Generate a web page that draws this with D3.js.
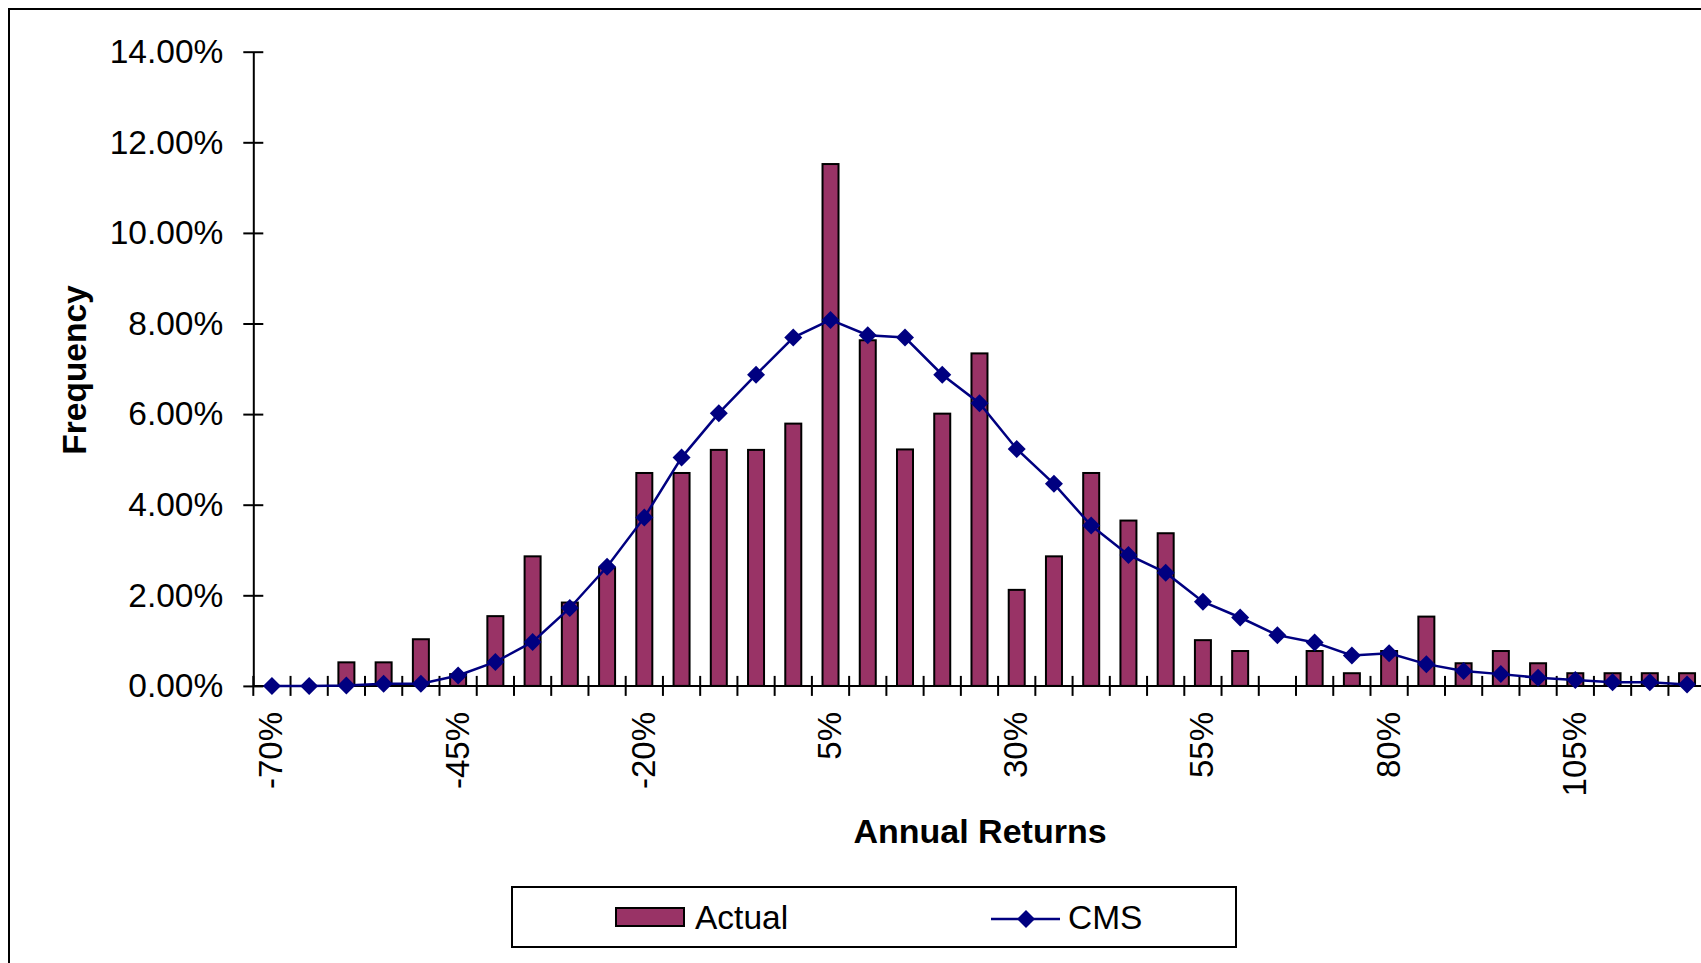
<!DOCTYPE html>
<html>
<head>
<meta charset="utf-8">
<script src="https://cdn.jsdelivr.net/npm/d3@7"></script>
<style>
  html, body { margin: 0; padding: 0; background: #fff; overflow: hidden; }
  svg { display: block; }
  text { font-family: "Liberation Sans", Arial, sans-serif; fill: #000; }
</style>
</head>
<body>
<svg id="chart" width="1701" height="963"></svg>
<script>
// ---- data ----
const categories = ["-70%","-65%","-60%","-55%","-50%","-45%","-40%","-35%","-30%","-25%",
  "-20%","-15%","-10%","-5%","0%","5%","10%","15%","20%","25%",
  "30%","35%","40%","45%","50%","55%","60%","65%","70%","75%",
  "80%","85%","90%","95%","100%","105%","110%","115%","120%"];
const actual = [0, 0, 0.52, 0.52, 1.03, 0.26, 1.54, 2.86, 1.84, 2.60,
  4.70, 4.70, 5.21, 5.21, 5.79, 11.52, 7.63, 5.22, 6.01, 7.34,
  2.12, 2.86, 4.70, 3.65, 3.37, 1.01, 0.77, 0, 0.77, 0.28,
  0.77, 1.53, 0.50, 0.77, 0.50, 0.28, 0.28, 0.28, 0.28];
const cms = [0.00, 0.00, 0.01, 0.05, 0.05, 0.23, 0.53, 0.97, 1.72, 2.63,
  3.72, 5.04, 6.02, 6.87, 7.69, 8.08, 7.74, 7.69, 6.87, 6.24,
  5.23, 4.46, 3.54, 2.89, 2.50, 1.86, 1.51, 1.12, 0.96, 0.67,
  0.72, 0.48, 0.33, 0.26, 0.18, 0.13, 0.08, 0.08, 0.03];
const yTicks = [0, 2, 4, 6, 8, 10, 12, 14];
const yTickLabels = ["0.00%","2.00%","4.00%","6.00%","8.00%","10.00%","12.00%","14.00%"];
const xTickLabels = ["-70%","-45%","-20%","5%","30%","55%","80%","105%"];
const seriesNames = ["Actual", "CMS"];

// ---- layout ----
const svg = d3.select("#chart");
const X0 = 253.3, STEP = 37.24, Y0 = 685.9, YTOP = 51.7;
const barColor = "#993366", lineColor = "#000080";

const x = d3.scaleBand().domain(categories)
  .range([X0, X0 + STEP * categories.length]).paddingInner(0).paddingOuter(0);
const y = d3.scaleLinear().domain([0, 14]).range([Y0, YTOP]);
const cx = c => x(c) + x.bandwidth() / 2;

// outer border (cropped on right and bottom)
svg.append("rect").attr("x", 9).attr("y", 9).attr("width", 1760).attr("height", 1000)
  .attr("fill", "none").attr("stroke", "#000").attr("stroke-width", 2);

// bars
const barW = 16;
svg.append("g").selectAll("rect").data(categories.map((c, i) => ({c, v: actual[i]})).filter(d => d.v > 0))
  .join("rect")
  .attr("x", d => cx(d.c) - barW / 2)
  .attr("y", d => y(d.v))
  .attr("width", barW)
  .attr("height", d => y(0) - y(d.v))
  .attr("fill", barColor).attr("stroke", "#000").attr("stroke-width", 2);

// y axis
const yAxis = d3.axisLeft(y).tickValues(yTicks)
  .tickFormat((d, i) => yTickLabels[i]).tickSizeInner(10).tickSizeOuter(0).tickPadding(20);
const yg = svg.append("g").attr("transform", `translate(${X0},0)`).call(yAxis);
yg.select(".domain").attr("stroke", "#000").attr("stroke-width", 2);
yg.selectAll(".tick line").attr("x1", 10).attr("x2", -10).attr("stroke", "#000").attr("stroke-width", 2);
yg.selectAll(".tick text").attr("font-size", 33.5).attr("font-family", '"Liberation Sans", Arial, sans-serif')
  .attr("fill", "#000");

// x axis line
svg.append("line").attr("x1", X0).attr("x2", X0 + STEP * categories.length)
  .attr("y1", Y0).attr("y2", Y0).attr("stroke", "#000").attr("stroke-width", 2);
// x ticks at category boundaries
const boundaries = categories.map(c => x(c)).concat([x(categories[categories.length - 1]) + x.bandwidth()]);
svg.append("g").selectAll("line").data(boundaries).join("line")
  .attr("x1", d => d).attr("x2", d => d)
  .attr("y1", Y0 - 10).attr("y2", Y0 + 10)
  .attr("stroke", "#000").attr("stroke-width", 2);
// x tick labels
svg.append("g").selectAll("text").data(xTickLabels).join("text")
  .attr("transform", d => `translate(${cx(d) - 1},712) rotate(-90)`)
  .attr("text-anchor", "end").attr("dominant-baseline", "central")
  .attr("font-size", 33).text(d => d);

// CMS line
const line = d3.line().x((d, i) => cx(categories[i])).y(d => y(d));
svg.append("path").datum(cms).attr("d", line)
  .attr("fill", "none").attr("stroke", lineColor).attr("stroke-width", 2.5);
const diamond = "M0,-9L9,0L0,9L-9,0Z";
svg.append("g").selectAll("path").data(cms).join("path")
  .attr("transform", (d, i) => `translate(${cx(categories[i])},${y(d)})`)
  .attr("d", diamond).attr("fill", lineColor);

// axis titles
svg.append("text").attr("x", 980).attr("y", 843).attr("text-anchor", "middle")
  .attr("font-size", 34).attr("font-weight", "bold").text("Annual Returns");
svg.append("text").attr("transform", "translate(86,370) rotate(-90)").attr("text-anchor", "middle")
  .attr("font-size", 33.5).attr("font-weight", "bold").text("Frequency");

// legend
const lg = svg.append("g");
lg.append("rect").attr("x", 512).attr("y", 887).attr("width", 724).attr("height", 60)
  .attr("fill", "#fff").attr("stroke", "#000").attr("stroke-width", 2);
lg.append("rect").attr("x", 616).attr("y", 908).attr("width", 68).attr("height", 18)
  .attr("fill", barColor).attr("stroke", "#000").attr("stroke-width", 2);
lg.append("text").attr("x", 695).attr("y", 929).attr("font-size", 33.5).text(seriesNames[0]);
lg.append("line").attr("x1", 991).attr("x2", 1060).attr("y1", 919).attr("y2", 919)
  .attr("stroke", lineColor).attr("stroke-width", 2.5);
lg.append("path").attr("transform", "translate(1026,919)").attr("d", diamond).attr("fill", lineColor);
lg.append("text").attr("x", 1068).attr("y", 929).attr("font-size", 33.5).text(seriesNames[1]);
</script>
</body>
</html>
